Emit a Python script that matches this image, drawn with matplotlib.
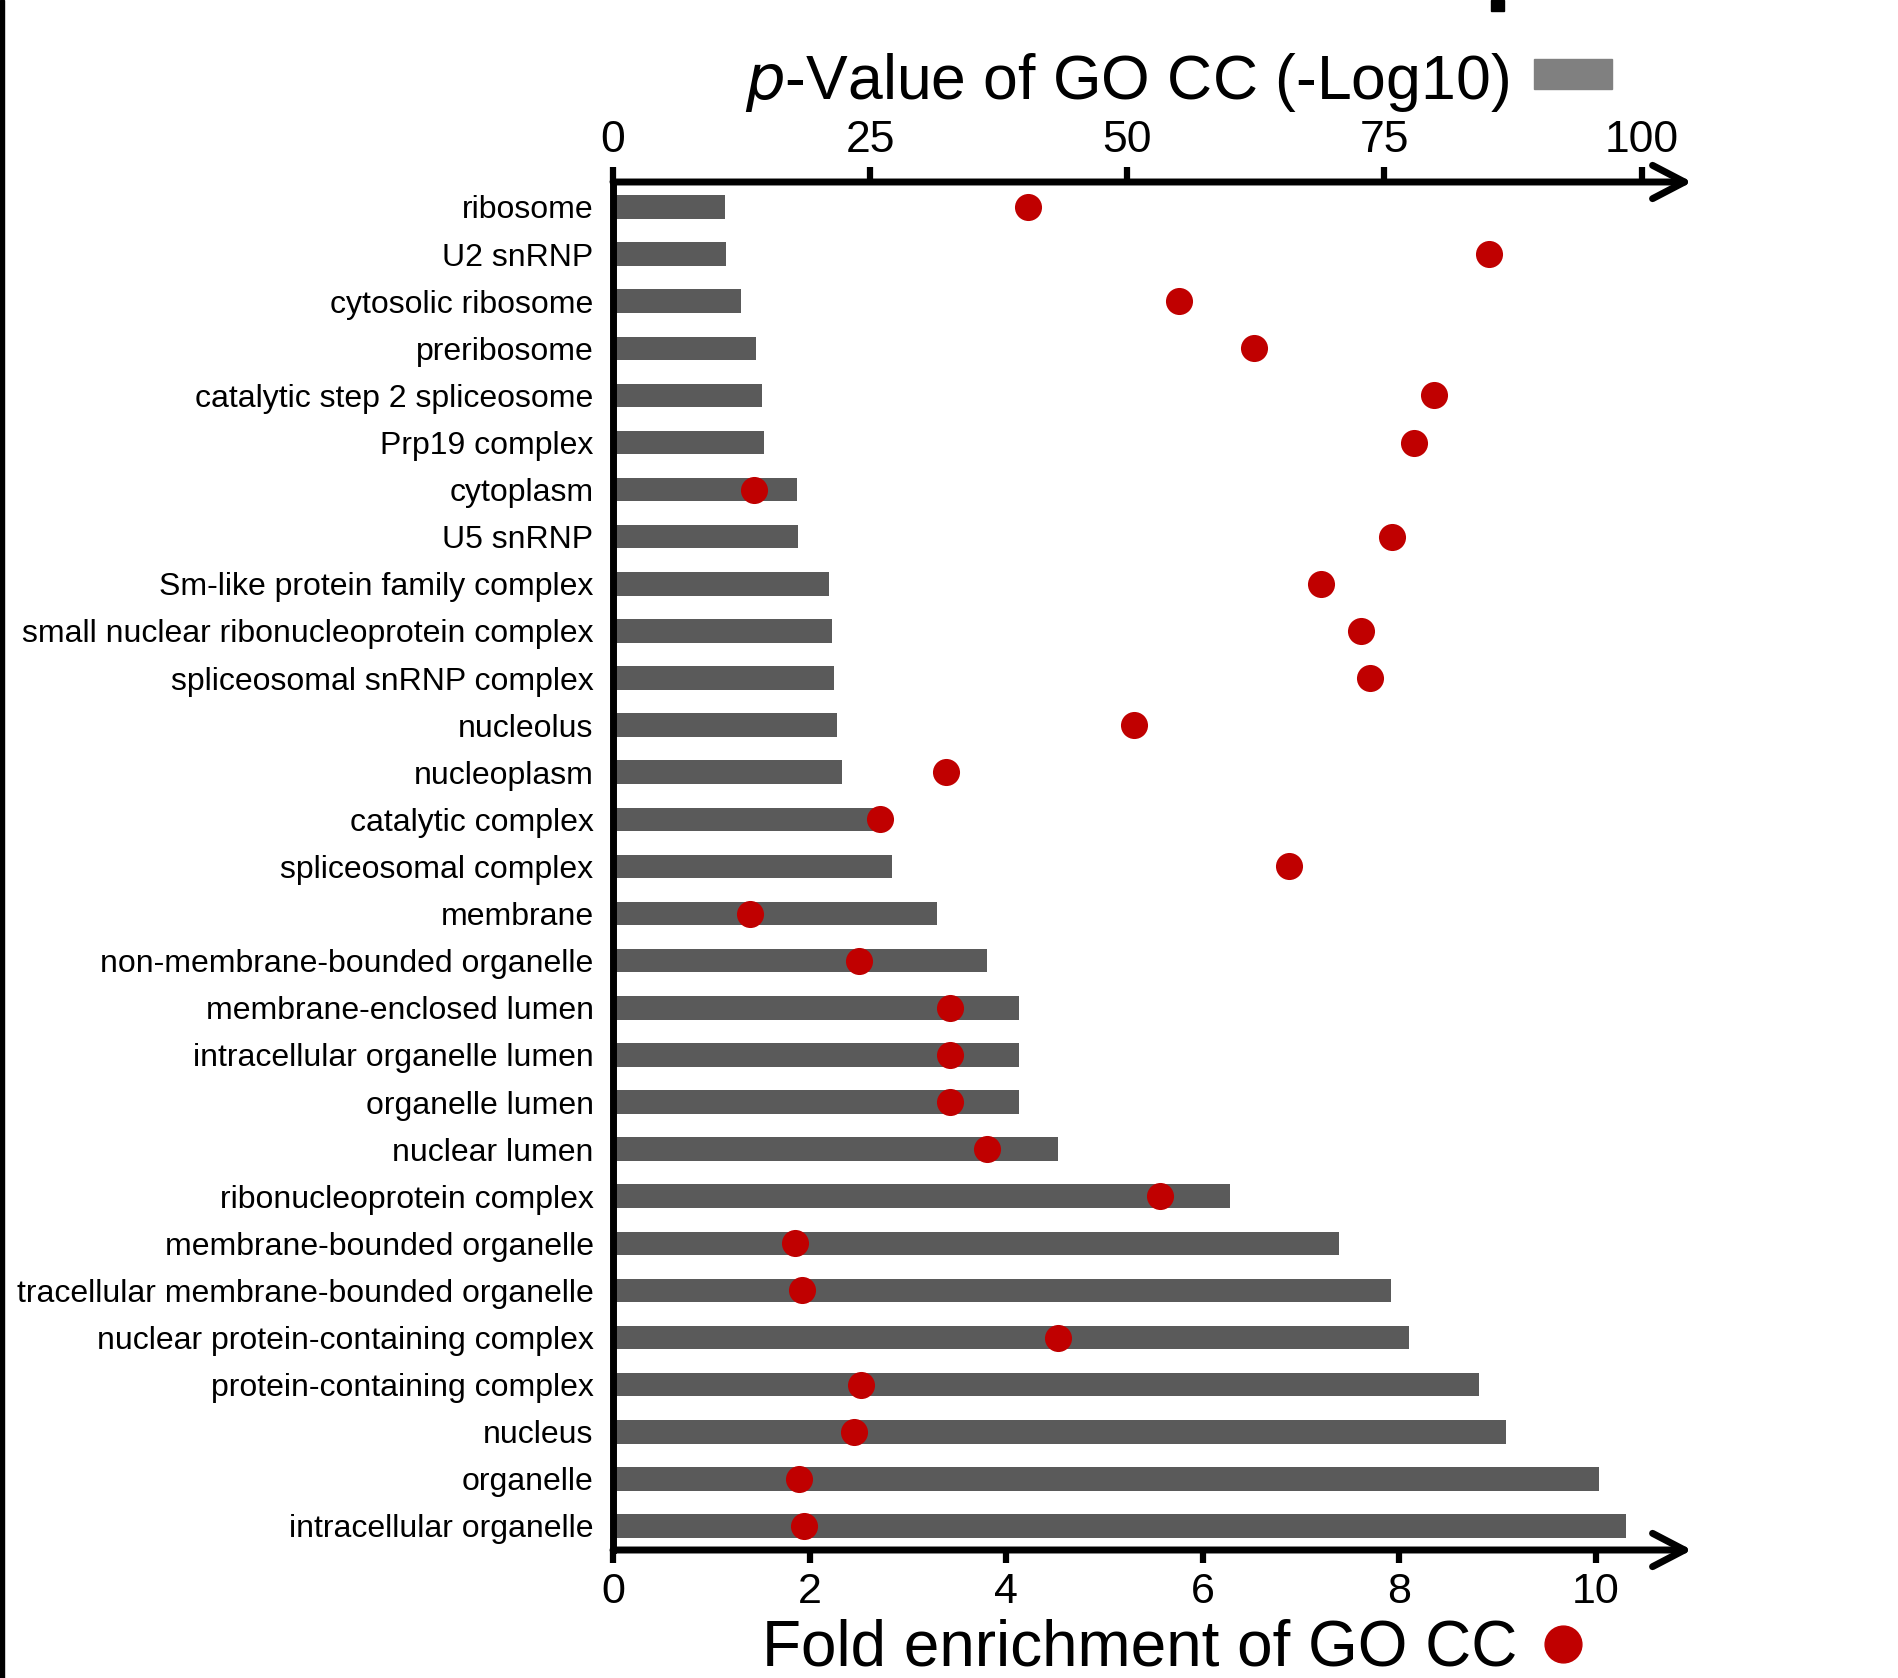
import matplotlib
matplotlib.use('Agg')
import matplotlib.pyplot as plt
from matplotlib.patches import Rectangle
from matplotlib.lines import Line2D

plt.rcParams['font.family'] = ['Liberation Sans', 'DejaVu Sans']

terms = ['ribosome', 'U2 snRNP', 'cytosolic ribosome', 'preribosome',
         'catalytic step 2 spliceosome', 'Prp19 complex', 'cytoplasm',
         'U5 snRNP', 'Sm-like protein family complex',
         'small nuclear ribonucleoprotein complex',
         'spliceosomal snRNP complex', 'nucleolus', 'nucleoplasm',
         'catalytic complex', 'spliceosomal complex', 'membrane',
         'non-membrane-bounded organelle', 'membrane-enclosed lumen',
         'intracellular organelle lumen', 'organelle lumen', 'nuclear lumen',
         'ribonucleoprotein complex', 'membrane-bounded organelle',
         'tracellular membrane-bounded organelle',
         'nuclear protein-containing complex', 'protein-containing complex',
         'nucleus', 'organelle', 'intracellular organelle']

# -log10 p-value (top axis, grey bars)
pval = [10.9, 11.0, 12.4, 13.9, 14.5, 14.7, 17.9, 18.0, 21.0, 21.3,
        21.5, 21.8, 22.3, 26.0, 27.1, 31.5, 36.4, 39.5, 39.5, 39.5,
        43.3, 60.0, 70.6, 75.6, 77.4, 84.2, 86.8, 95.9, 98.5]

# fold enrichment (bottom axis, red dots)
fold = [4.22, 8.91, 5.76, 6.52, 8.35, 8.15, 1.43, 7.93, 7.20, 7.61,
        7.70, 5.30, 3.39, 2.72, 6.88, 1.39, 2.50, 3.43, 3.43, 3.43,
        3.81, 5.57, 1.85, 1.92, 4.53, 2.52, 2.45, 1.89, 1.94]

pv_ticks = [0, 25, 50, 75, 100]
fe_ticks = [0, 2, 4, 6, 8, 10]

W, H = 1899, 1678
fig = plt.figure(figsize=(W / 100, H / 100), dpi=100)

x0, x1 = 613, 1692
y_top, y_bot = 182, 1550
ax = fig.add_axes([x0 / W, 1 - y_bot / H, (x1 - x0) / W, (y_bot - y_top) / H])
ax2 = ax.twiny()

pos = list(range(len(terms)))
ax.barh(pos, pval, height=0.5, color='#5a5a5a', zorder=2)
ax.set_xlim(0, 104.9)
ax.set_ylim(28.51, -0.53)
ax.set_yticks(pos)
ax.set_yticklabels(terms, fontsize=23)
ax.tick_params(axis='y', length=0, pad=14)

ax2.scatter(fold, pos, s=380, color='#c00000', zorder=3, linewidths=0)
ax2.set_xlim(0, 10.98)
ax2.set_ylim(28.51, -0.53)

# p-value scale on top, fold enrichment at the bottom
ax.xaxis.set_ticks_position('top')
ax.xaxis.set_label_position('top')
ax.set_xticks(pv_ticks)
ax.tick_params(axis='x', labelsize=32, length=11, width=4.5, pad=4)
ax2.xaxis.set_ticks_position('bottom')
ax2.xaxis.set_label_position('bottom')
ax2.set_xticks(fe_ticks)
ax2.tick_params(axis='x', labelsize=31, length=9.5, width=4.5, pad=6)

for a in (ax, ax2):
    for s in ['top', 'bottom', 'right']:
        a.spines[s].set_visible(False)
ax2.spines['left'].set_visible(False)
ax.spines['left'].set_linewidth(5)

arrow = dict(arrowstyle='->,head_length=1.15,head_width=0.6', lw=5,
             color='black', shrinkA=0, shrinkB=0, mutation_scale=20)
ax2.annotate('', xy=(1.0, 1.0), xytext=(0, 1.0), xycoords='axes fraction',
             arrowprops=arrow)
ax2.annotate('', xy=(1.0, 0.0), xytext=(0, 0.0), xycoords='axes fraction',
             arrowprops=arrow)

# axis titles with their own legend keys
fig.text(745 / W, 1 - 99 / H, r'$\it{p}$-Value of GO CC (-Log10)',
         fontsize=45, ha='left', va='baseline')
fig.text(762 / W, 1 - 1665 / H, 'Fold enrichment of GO CC',
         fontsize=46, ha='left', va='baseline')
fig.add_artist(Rectangle((1534 / W, 1 - 89 / H), 78 / W, 30 / H,
                         transform=fig.transFigure, color='#808080'))
fig.add_artist(Line2D([1563 / W], [1 - 1644 / H], marker='o',
                      markersize=26.5, color='#c00000', linestyle='none',
                      transform=fig.transFigure))

# cropping remnants of the original image
fig.add_artist(Rectangle((0, 0), 4 / W, 1, transform=fig.transFigure,
                         color='black'))
fig.add_artist(Rectangle((1491 / W, 1 - 11 / H), 13 / W, 11 / H,
                         transform=fig.transFigure, color='black'))

fig.savefig('out.png', dpi=100)
